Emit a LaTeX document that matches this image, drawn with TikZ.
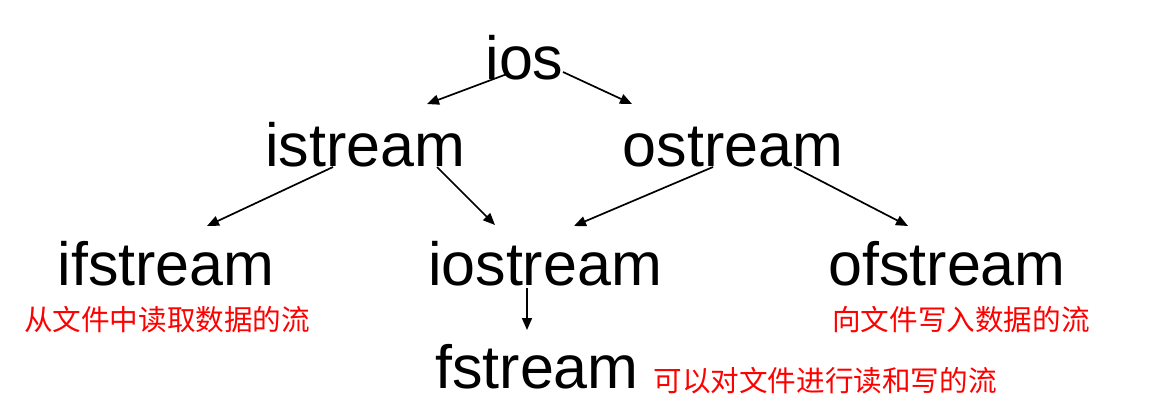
\documentclass[tikz,border=0pt]{standalone}
\usepackage{fontspec}
\setmainfont{Liberation Sans}
\newfontfamily\cjk{Noto Sans CJK SC}
\usetikzlibrary{arrows.meta}
\begin{document}
\begin{tikzpicture}[x=1pt,y=-1pt,
  cls/.style={anchor=base,inner sep=0pt,font=\fontsize{61}{61}\selectfont},
  note/.style={anchor=center,inner sep=0pt,text=red,font=\cjk\fontsize{28.6}{28.6}\selectfont},
  arr/.style={line width=1.7pt,-{Triangle[length=12pt,width=10pt]}}]
\useasboundingbox (0,0) rectangle (1162,412);
\node[cls] (ios) at (524.5,79) {ios};
\node[cls] (istream) at (365,166) {istream};
\node[cls] (ostream) at (733,166) {ostream};
\node[cls] (ifstream) at (166,285) {ifstream};
\node[cls] (iostream) at (545,285) {iostream};
\node[cls] (ofstream) at (947,285) {ofstream};
\node[cls] (fstream) at (537,388) {fstream};
\node[note] (n1) at (167,320) {从文件中读取数据的流};
\node[note] (n2) at (961,320) {向文件写入数据的流};
\node[note] (n3) at (825,381) {可以对文件进行读和写的流};
\coordinate (a1) at (507,74);
\coordinate (a2) at (427,104);
\coordinate (b1) at (563,72);
\coordinate (b2) at (632,104);
\coordinate (c1) at (333,167);
\coordinate (c2) at (207,226);
\coordinate (d1) at (437,167);
\coordinate (d2) at (495,225);
\coordinate (e1) at (713,167);
\coordinate (e2) at (574,226);
\coordinate (f1) at (794,167);
\coordinate (f2) at (908,226);
\coordinate (g1) at (527,288);
\coordinate (g2) at (527,330);
\draw[arr] (a1) -- (a2);
\draw[arr] (b1) -- (b2);
\draw[arr] (c1) -- (c2);
\draw[arr] (d1) -- (d2);
\draw[arr] (e1) -- (e2);
\draw[arr] (f1) -- (f2);
\draw[arr] (g1) -- (g2);
\end{tikzpicture}
\end{document}
